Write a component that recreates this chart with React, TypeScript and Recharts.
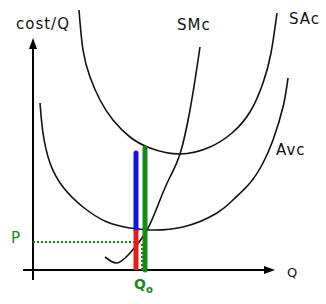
import React from "react";
import { LineChart, Line, XAxis, YAxis, ReferenceLine } from "recharts";

// q = quantity, c = cost per unit
const sacCurve = [
  { q: 47, c: 260 }, { q: 51, c: 220 }, { q: 58, c: 193 }, { q: 68, c: 170 },
  { q: 81, c: 150 }, { q: 98, c: 133 }, { q: 118, c: 122 }, { q: 148, c: 116 },
  { q: 178, c: 123 }, { q: 200, c: 137 }, { q: 218, c: 158 },
  { q: 231, c: 187 }, { q: 239, c: 217 }, { q: 245, c: 257 },
];
const avcCurve = [
  { q: 8, c: 167 }, { q: 11, c: 137 }, { q: 18, c: 107 }, { q: 31, c: 83 },
  { q: 51, c: 63 }, { q: 75, c: 48 }, { q: 98, c: 42 }, { q: 118, c: 40 },
  { q: 151, c: 43 }, { q: 185, c: 57 }, { q: 202, c: 71 }, { q: 218, c: 87 },
  { q: 231, c: 107 }, { q: 241, c: 130 }, { q: 251, c: 163 }, { q: 256, c: 192 },
];
const smcCurve = [
  { q: 73, c: 13 }, { q: 85, c: 7 }, { q: 98, c: 17 }, { q: 115, c: 40 },
  { q: 128, c: 70 }, { q: 138, c: 93 }, { q: 148, c: 116 }, { q: 158, c: 160 },
  { q: 165, c: 203 }, { q: 168, c: 223 },
];

const q0Red = 104;
const q0Green = 113;
const avcMin = 40;
const blueTop = 117;
const greenTop = 122;
const price = 28;
const priceDropX = 110;

const GREEN = "#168a16";
const font = "'DejaVu Sans', sans-serif";

const Arrow = (props: any) => {
  const { x1, y1, x2, y2 } = props;
  const ang = Math.atan2(y2 - y1, x2 - x1);
  const len = 11;
  const half = 4;
  const bx = x2 - len * Math.cos(ang);
  const by = y2 - len * Math.sin(ang);
  const px = -Math.sin(ang) * half;
  const py = Math.cos(ang) * half;
  return (
    <g>
      <line x1={x1} y1={y1} x2={bx} y2={by} stroke="#000" strokeWidth={2} />
      <polygon
        points={`${x2},${y2} ${bx + px},${by + py} ${bx - px},${by - py}`}
        fill="#000"
      />
    </g>
  );
};

const label = (text: string, left: number, top: number, color = "#111", size = 15) => (
  <span
    style={{
      position: "absolute",
      left,
      top,
      color,
      fontFamily: font,
      fontSize: size,
      letterSpacing: 1,
      lineHeight: 1,
    }}
  >
    {text}
  </span>
);

export default function App() {
  return (
    <div style={{ position: "absolute", left: 0, top: 0, width: 326, height: 304, background: "#fff" }}>
      <LineChart width={326} height={304} margin={{ top: 10, right: 24, bottom: 14, left: 17 }}>
        <XAxis type="number" dataKey="q" domain={[-15, 270]} hide allowDataOverflow />
        <YAxis type="number" dataKey="c" domain={[-20, 260]} hide allowDataOverflow />

        {/* axes */}
        <ReferenceLine segment={[{ x: -9, y: 0 }, { x: 243, y: 0 }]} shape={Arrow} />
        <ReferenceLine segment={[{ x: 1, y: -10 }, { x: 1, y: 232 }]} shape={Arrow} />

        <Line data={sacCurve} dataKey="c" type="natural" stroke="#111" strokeWidth={1.6} dot={false} isAnimationActive={false} />
        <Line data={avcCurve} dataKey="c" type="natural" stroke="#111" strokeWidth={1.6} dot={false} isAnimationActive={false} />
        <Line data={smcCurve} dataKey="c" type="natural" stroke="#111" strokeWidth={1.6} dot={false} isAnimationActive={false} />

        {/* price line */}
        <ReferenceLine segment={[{ x: 1, y: price }, { x: q0Red + 4, y: price }]} stroke={GREEN} strokeWidth={2} strokeDasharray="2 2" />
        <ReferenceLine segment={[{ x: priceDropX, y: 0 }, { x: priceDropX, y: price }]} stroke={GREEN} strokeWidth={2} strokeDasharray="2 2" />

        {/* bars at Q0 */}
        <ReferenceLine segment={[{ x: q0Red, y: avcMin }, { x: q0Red, y: blueTop }]} stroke="#1414e6" strokeWidth={5} strokeLinecap="round" />
        <ReferenceLine segment={[{ x: q0Red, y: 0 }, { x: q0Red, y: avcMin }]} stroke="#ea1a1a" strokeWidth={5} />
        <ReferenceLine segment={[{ x: q0Green, y: 0 }, { x: q0Green, y: greenTop }]} stroke={GREEN} strokeWidth={5} strokeLinecap="round" />
      </LineChart>

      {label("cost/Q", 16, 17)}
      {label("SMc", 177, 18)}
      {label("SAc", 289, 12)}
      {label("Avc", 276, 143)}
      {label("Q", 287, 266, "#111", 13)}
      {label("P", 11, 231, GREEN, 15)}
      <span style={{ position: "absolute", left: 134, top: 276, color: GREEN, fontFamily: font, fontSize: 14, fontWeight: "bold" }}>
        Q<sub style={{ fontSize: 10 }}>o</sub>
      </span>
    </div>
  );
}
